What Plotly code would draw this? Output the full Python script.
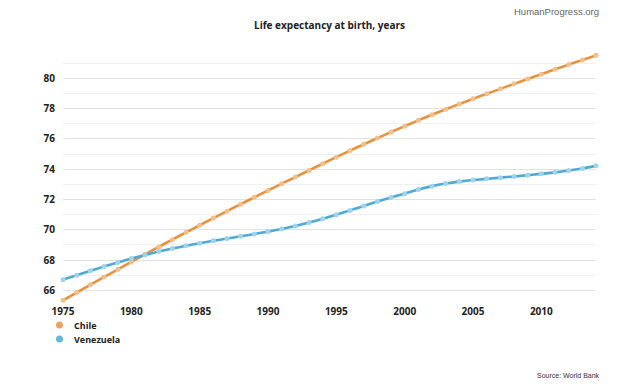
import plotly.graph_objects as go

years = list(range(1975, 2015))

chile = [65.35, 65.86, 66.37, 66.88, 67.38, 67.88, 68.38, 68.87, 69.35, 69.83,
         70.30, 70.77, 71.23, 71.69, 72.14, 72.59, 73.04, 73.48, 73.92, 74.36,
         74.79, 75.22, 75.64, 76.05, 76.45, 76.84, 77.22, 77.59, 77.95, 78.30,
         78.64, 78.97, 79.30, 79.63, 79.95, 80.27, 80.59, 80.90, 81.21, 81.51]

venezuela = [66.71, 67.00, 67.29, 67.57, 67.84, 68.10, 68.34, 68.56, 68.76, 68.94,
             69.11, 69.27, 69.42, 69.57, 69.72, 69.88, 70.05, 70.25, 70.48, 70.73,
             71.00, 71.28, 71.57, 71.86, 72.13, 72.38, 72.65, 72.88, 73.05, 73.18,
             73.28, 73.36, 73.44, 73.52, 73.60, 73.69, 73.79, 73.91, 74.05, 74.22]

x_ticks = [1975, 1980, 1985, 1990, 1995, 2000, 2005, 2010]
y_ticks = [66, 68, 70, 72, 74, 76, 78, 80]

series = [("Chile", chile, "#e8923e", "#f5bf8c"),
          ("Venezuela", venezuela, "#4ea9d3", "#9fd3ec")]

W, H = 624, 386
ML, MR, MT, MB = 63, 28, 54, 85
plot_w = W - ML - MR
plot_h = H - MT - MB


def px_to_paper(px, py):
    return (px - ML) / plot_w, (H - MB - py) / plot_h


FONT = "Open Sans"
fig = go.Figure()
for name, vals, line_c, mark_c in series:
    fig.add_trace(go.Scatter(
        x=years, y=vals, mode="lines+markers", name=name,
        line=dict(color=line_c, width=2.6, shape="spline", smoothing=0.5),
        marker=dict(color=mark_c, size=5, line=dict(width=0)),
        showlegend=False, cliponaxis=False))

fig.update_layout(
    width=W, height=H,
    margin=dict(l=ML, r=MR, t=MT, b=MB),
    paper_bgcolor="white", plot_bgcolor="white",
    font=dict(family=FONT, color="#222"),
    title=dict(text="<b>Life expectancy at birth, years</b>", x=0.5, xref="paper",
               y=1 - 25 / H, yanchor="middle", yref="container",
               font=dict(size=10, color="#222", family=FONT)),
    showlegend=False,
    xaxis=dict(range=[1975, 2014], tickvals=x_ticks, showgrid=False, zeroline=False,
               showline=False, ticks="", ticklabelstandoff=3,
               tickfont=dict(size=10, color="#222", family=FONT, weight="bold")),
    yaxis=dict(range=[65.3, 81.6], tickvals=y_ticks, showgrid=True, gridcolor="#e2e2e2",
               gridwidth=1, zeroline=False, showline=False, ticks="",
               ticklabelstandoff=7,
               tickfont=dict(size=10, color="#222", family=FONT, weight="bold"),
               minor=dict(dtick=1, tick0=65, showgrid=True, gridcolor="#f0f0f0", gridwidth=1)),
)

# manual legend (dot + label), positioned in pixels
legend_rows = [(series[0][0], series[0][2], 325), (series[1][0], series[1][2], 339)]
for name, color, py in legend_rows:
    cx, cy = px_to_paper(59.5, py)
    fig.add_shape(type="circle", xref="paper", yref="paper",
                  xsizemode="pixel", ysizemode="pixel",
                  xanchor=cx, yanchor=cy, x0=-3.5, x1=3.5, y0=-3.5, y1=3.5,
                  fillcolor=color, opacity=0.85, line=dict(width=0))
    tx, ty = px_to_paper(72, py)
    fig.add_annotation(text=f"<b>{name}</b>", x=tx, y=ty, xref="paper", yref="paper",
                       xanchor="left", yanchor="middle", showarrow=False,
                       font=dict(size=9, color="#222", family=FONT))

hx, hy = px_to_paper(601, 11)
sx, sy = px_to_paper(602, 375)
fig.add_annotation(text="HumanProgress.org", x=hx, y=hy, xref="paper", yref="paper",
                   xanchor="right", yanchor="middle", showarrow=False,
                   font=dict(size=9.5, color="#666", family="Liberation Sans"))
fig.add_annotation(text="Source: World Bank", x=sx, y=sy, xref="paper", yref="paper",
                   xanchor="right", yanchor="middle", showarrow=False,
                   font=dict(size=7, color="#333", family="Liberation Sans"))

fig.write_html("out.html", config={"displayModeBar": False},
               post_script="document.body.style.margin='0px';")
